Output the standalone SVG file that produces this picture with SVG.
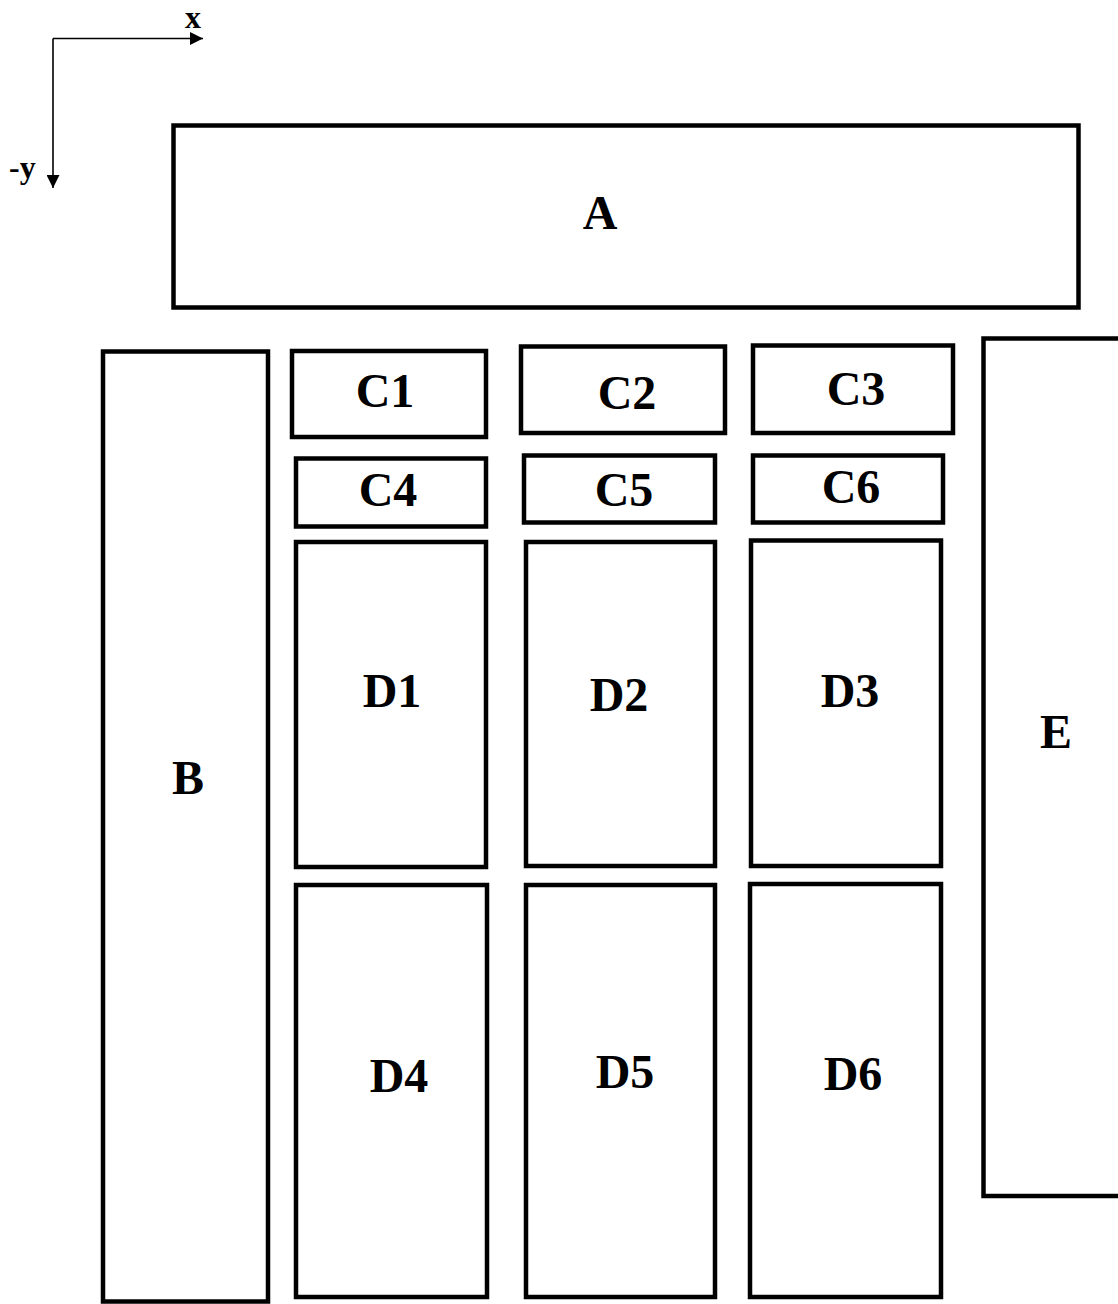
<svg xmlns="http://www.w3.org/2000/svg" width="1118" height="1304" viewBox="0 0 1118 1304">
<style>
.box{fill:none;stroke:#000;stroke-width:4.5}
.lbl{font-family:"Liberation Serif","Times New Roman",serif;font-weight:bold;font-size:48px;text-anchor:middle;fill:#000}
.ax{font-family:"Liberation Serif","Times New Roman",serif;font-weight:bold;font-size:32px;fill:#000}
.axl{fill:none;stroke:#000;stroke-width:1.6}
</style>
<defs>
<marker id="arr" viewBox="0 0 10 10" refX="10" refY="5" markerWidth="15" markerHeight="13" markerUnits="userSpaceOnUse" orient="auto">
<path d="M0,0 L10,5 L0,10 Z" fill="#000"/>
</marker>
</defs>
<rect width="1118" height="1304" fill="#fff"/>
<g id="connectors">
<path class="axl" d="M53,38.5 H203" marker-end="url(#arr)"/>
<path class="axl" d="M53,38.5 V188" marker-end="url(#arr)"/>
</g>
<text class="ax" x="193" y="28" text-anchor="middle" font-size="28">x</text>
<text class="ax" x="9" y="178">-y</text>
<g id="A"><rect class="box" x="173.5" y="125.5" width="905" height="182"/><text class="lbl" x="600" y="229">A</text></g>
<g id="B"><rect class="box" x="103" y="351.5" width="165" height="950"/><text class="lbl" x="188" y="794">B</text></g>
<g id="C1"><rect class="box" x="292" y="351" width="194" height="86"/><text class="lbl" x="385" y="407">C1</text></g>
<g id="C2"><rect class="box" x="521" y="346.5" width="204" height="86.5"/><text class="lbl" x="627" y="409">C2</text></g>
<g id="C3"><rect class="box" x="753" y="345.5" width="200" height="87.5"/><text class="lbl" x="856" y="405">C3</text></g>
<g id="C4"><rect class="box" x="296" y="458.5" width="190" height="68"/><text class="lbl" x="388" y="506">C4</text></g>
<g id="C5"><rect class="box" x="524" y="455.5" width="191" height="67"/><text class="lbl" x="624" y="506">C5</text></g>
<g id="C6"><rect class="box" x="753" y="455.5" width="190" height="67"/><text class="lbl" x="851" y="503">C6</text></g>
<g id="D1"><rect class="box" x="296" y="542" width="190" height="325"/><text class="lbl" x="392" y="707">D1</text></g>
<g id="D2"><rect class="box" x="526" y="542" width="189" height="324"/><text class="lbl" x="619" y="711">D2</text></g>
<g id="D3"><rect class="box" x="751" y="540.5" width="190" height="325.5"/><text class="lbl" x="850" y="707">D3</text></g>
<g id="D4"><rect class="box" x="296" y="885" width="191" height="412"/><text class="lbl" x="399" y="1092">D4</text></g>
<g id="D5"><rect class="box" x="526" y="885" width="189" height="412"/><text class="lbl" x="625" y="1088">D5</text></g>
<g id="D6"><rect class="box" x="750" y="884" width="191" height="413"/><text class="lbl" x="853" y="1090">D6</text></g>
<g id="E"><rect class="box" x="983.5" y="338.5" width="150" height="857.5"/><text class="lbl" x="1056" y="748">E</text></g>
</svg>
